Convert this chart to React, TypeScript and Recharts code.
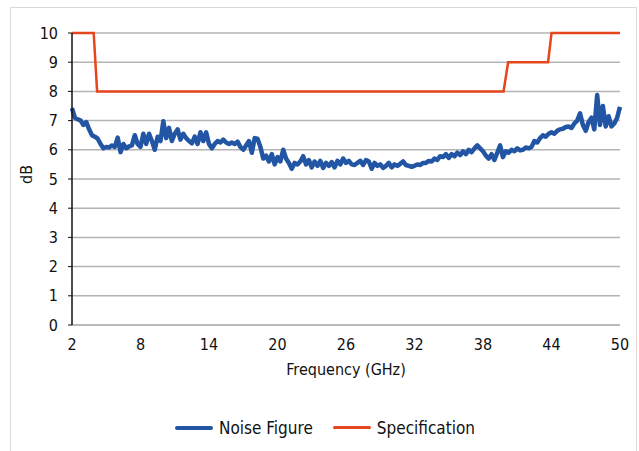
import React from "react";
import { LineChart, Line, XAxis, YAxis, CartesianGrid, Legend } from "recharts";

const noiseStartGHz = 2;
const noiseStepGHz = 0.25;
const noiseFigureDb = [
  7.43, 7.1, 7.05, 7.0,
  6.85, 6.95, 6.7, 6.5,
  6.45, 6.38, 6.2, 6.05,
  6.1, 6.08, 6.15, 6.1,
  6.42, 5.92, 6.2, 6.05,
  6.12, 6.15, 6.5, 6.2,
  6.1, 6.55, 6.2, 6.55,
  6.3, 6.0, 6.45, 6.3,
  6.98, 6.4, 6.75, 6.3,
  6.55, 6.7, 6.35, 6.55,
  6.4, 6.3, 6.22, 6.45,
  6.2, 6.6, 6.3, 6.6,
  6.2, 6.05, 6.2, 6.3,
  6.25, 6.35, 6.25, 6.2,
  6.25, 6.2, 6.28, 6.1,
  6.0, 6.15, 6.3, 5.9,
  6.4, 6.38, 6.1, 5.7,
  5.8, 5.6, 5.85, 5.5,
  5.75, 5.6, 6.0, 5.7,
  5.55, 5.35, 5.55, 5.5,
  5.6, 5.78, 5.5, 5.65,
  5.4, 5.6, 5.45, 5.62,
  5.38, 5.55, 5.45, 5.58,
  5.4, 5.62, 5.5, 5.7,
  5.55, 5.62, 5.5, 5.48,
  5.55, 5.62, 5.48, 5.65,
  5.6, 5.35, 5.55, 5.45,
  5.5, 5.38, 5.45, 5.55,
  5.4, 5.5, 5.45, 5.52,
  5.6, 5.48, 5.45, 5.42,
  5.45, 5.5, 5.48, 5.55,
  5.55, 5.62, 5.6, 5.7,
  5.65, 5.78, 5.75, 5.85,
  5.72, 5.85, 5.78, 5.9,
  5.82, 5.95, 5.85, 6.0,
  5.92, 6.05, 6.15, 6.05,
  5.95, 5.8, 5.7, 5.85,
  5.65, 5.9, 6.15, 5.75,
  5.95, 5.9, 6.0, 5.95,
  6.05, 5.98, 6.0, 6.08,
  6.05, 6.1, 6.3, 6.25,
  6.4, 6.5, 6.45, 6.55,
  6.6, 6.55, 6.65, 6.7,
  6.72, 6.78, 6.8, 6.75,
  6.9, 7.0, 7.25, 6.85,
  6.65, 6.95, 7.1, 6.7,
  7.88, 6.85, 7.5, 6.8,
  7.15, 6.8, 6.9, 7.1,
  7.47,
];

// Specification limit: step corners
const specFreqGHz = [2, 3.9, 4.2, 39.8, 40.2, 43.7, 44, 50];
const specDb = [10, 10, 8, 8, 9, 9, 10, 10];

const xTicks = [2, 8, 14, 20, 26, 32, 38, 44, 50];
const yTicks = [0, 1, 2, 3, 4, 5, 6, 7, 8, 9, 10];

const BLUE = "#2255a4";
const ORANGE = "#e5461b";
const FONT = "'Liberation Sans Narrow', 'DejaVu Sans Condensed', 'Roboto Condensed', Arial, sans-serif";

const noiseData = noiseFigureDb.map((v, i) => ({ freq: noiseStartGHz + i * noiseStepGHz, nf: v }));
const specData = specFreqGHz.map((f, i) => ({ freq: f, spec: specDb[i] }));

function LegendContent() {
  const item = (color: string, width: number, label: string, gap: number) => (
    <span style={{ display: "inline-flex", alignItems: "center", marginRight: gap }}>
      <span style={{ display: "inline-block", width: 38, height: width, background: color, borderRadius: 2, marginRight: 6 }} />
      <span style={{ fontSize: 17, color: "#111" }}>{label}</span>
    </span>
  );
  return (
    <div style={{ paddingTop: 19, height: 47, display: "flex", justifyContent: "center", fontFamily: FONT, paddingLeft: 30 }}>
      {item(BLUE, 4, "Noise Figure", 20)}
      {item(ORANGE, 3, "Specification", 0)}
    </div>
  );
}

export default function App() {
  return (
    <div style={{ position: "absolute", left: 0, top: 0, width: 639, height: 451, background: "#fff", overflow: "hidden", fontFamily: FONT }}>
      <div style={{ position: "absolute", left: 10, top: 7, width: 625, height: 460, border: "1px solid #d9d9d9" }} />
      <LineChart width={639} height={451} margin={{ top: 33, right: 19, left: 0, bottom: 0 }} style={{ position: "absolute", left: 0, top: 0 }}>
        <CartesianGrid vertical={false} stroke="#b4b4b4" strokeWidth={1.5} />
        <XAxis
          type="number"
          dataKey="freq"
          domain={[2, 50]}
          ticks={xTicks}
          allowDuplicatedCategory={false}
          height={60}
          axisLine={{ stroke: "#b4b4b4", strokeWidth: 1.5 }}
          tickLine={false}
          tickSize={0}
          tickMargin={14}
          tick={{ fontSize: 16, fill: "#111", fontFamily: FONT }}
          label={{ value: "Frequency (GHz)", position: "insideBottom", offset: 10, fontSize: 16, fill: "#111", fontFamily: FONT }}
        />
        <YAxis
          type="number"
          domain={[0, 10]}
          ticks={yTicks}
          width={72}
          interval={0}
          axisLine={{ stroke: "#111", strokeWidth: 1.5 }}
          tickLine={{ stroke: "#111" }}
          tickSize={4}
          tickMargin={10}
          tick={{ fontSize: 16, fill: "#111", fontFamily: FONT }}
          label={{ value: "dB", angle: -90, position: "insideLeft", offset: 26, fontSize: 16, fill: "#111", fontFamily: FONT, dy: 5 }}
        />
        <Legend verticalAlign="bottom" content={<LegendContent />} wrapperStyle={{ height: 66 }} />
        <Line
          data={noiseData}
          dataKey="nf"
          name="Noise Figure"
          type="linear"
          stroke={BLUE}
          strokeWidth={4.5}
          strokeLinejoin="round"
          dot={false}
          isAnimationActive={false}
        />
        <Line
          data={specData}
          dataKey="spec"
          name="Specification"
          type="linear"
          stroke={ORANGE}
          strokeWidth={2.5}
          dot={false}
          isAnimationActive={false}
        />
      </LineChart>
    </div>
  );
}
